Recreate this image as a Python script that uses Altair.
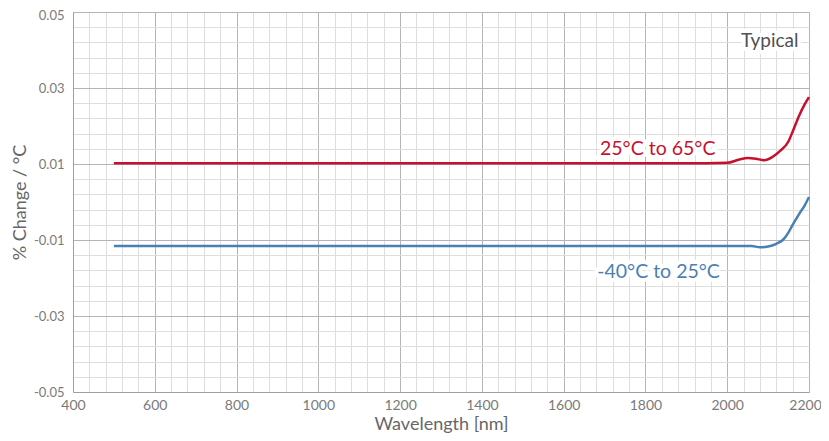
import altair as alt
import pandas as pd

# Data
wl_red = [500, 1000, 1500, 1950, 2000, 2030, 2050, 2070, 2090, 2110, 2130, 2150, 2160, 2175, 2190, 2200]
val_red = [0.0102, 0.0102, 0.0102, 0.0102, 0.0103, 0.0112, 0.0116, 0.0114, 0.0110, 0.0118, 0.0135, 0.0160, 0.0185, 0.0225, 0.0258, 0.0276]

wl_blue = [500, 1000, 1500, 2000, 2060, 2080, 2100, 2120, 2136, 2150, 2160, 2175, 2190, 2200]
val_blue = [-0.0116, -0.0116, -0.0116, -0.0116, -0.0116, -0.0119, -0.0117, -0.0110, -0.0100, -0.0080, -0.0060, -0.0033, -0.0008, 0.0013]

series_names = ["25°C to 65°C", "-40°C to 25°C"]
series_colors = ["#C8102E", "#4A7FB5"]

label_x = [1830, 1832]
label_y = [0.0139, -0.0184]

x_ticks = list(range(400, 2201, 40))
y_ticks = [round(-0.05 + 0.004 * i, 3) for i in range(26)]

df = pd.concat([
    pd.DataFrame({"wl": wl_red, "val": val_red, "series": series_names[0]}),
    pd.DataFrame({"wl": wl_blue, "val": val_blue, "series": series_names[1]}),
])
lab = pd.DataFrame({"wl": label_x, "val": label_y, "series": series_names})
typ = pd.DataFrame({"wl": [2104], "val": [0.0424], "t": ["Typical"]})

FONT = "Lato"
GRAYTXT = "#666666"
TICKTXT = "#7a7a7a"

xscale = alt.Scale(domain=[400, 2200], nice=False, zero=False)
yscale = alt.Scale(domain=[-0.05, 0.05], nice=False, zero=False)
cscale = alt.Scale(domain=series_names, range=series_colors)

xaxis = alt.Axis(
    values=x_ticks,
    tickCount=200,
    labelExpr="datum.value % 200 === 0 ? datum.label : ''",
    format="d",
    grid=True,
    gridColor={"condition": {"test": "datum.value % 200 === 0", "value": "#b4b4b4"}, "value": "#dedede"},
    gridWidth=1,
    ticks=False,
    domainColor="#a0a0a0",
    labelFont=FONT, labelFontSize=14, labelColor=TICKTXT, labelPadding=6,
    labelOffset={"condition": {"test": "datum.value >= 2200", "value": -4}, "value": 0},
    title="Wavelength [nm]", titleFont=FONT, titleFontSize=18, titleFontWeight="normal",
    titleColor=GRAYTXT, titlePadding=3, labelFlush=False, labelOverlap=False,
)
yaxis = alt.Axis(
    values=y_ticks,
    tickCount=200,
    labelExpr="abs(round(datum.value*1000)) % 20 === 10 ? replace(datum.label, '\u2212', '-') : ''",
    format=".2f",
    grid=True,
    gridColor={"condition": {"test": "abs(round(datum.value*1000)) % 20 === 10", "value": "#b4b4b4"}, "value": "#dedede"},
    gridWidth=1,
    ticks=False,
    domainColor="#a0a0a0",
    labelFont=FONT, labelFontSize=13, labelColor=TICKTXT, labelPadding=9,
    labelOffset={"condition": {"test": "datum.value >= 0.049", "value": 3}, "value": 0},
    title="% Change / °C", titleFont=FONT, titleFontSize=18, titleFontWeight="normal",
    titleColor=GRAYTXT, titleX=-53, titleY=190, titleAlign="center", titleBaseline="middle",
    labelOverlap=False, labelFlush=False,
)

lines = alt.Chart(df).mark_line(interpolate="monotone", strokeWidth=2.5).encode(
    x=alt.X("wl:Q", scale=xscale, axis=xaxis),
    y=alt.Y("val:Q", scale=yscale, axis=yaxis),
    color=alt.Color("series:N", scale=cscale, legend=None),
    detail="series:N",
)

halo = alt.Chart(lab).mark_text(font=FONT, fontSize=19.5, stroke="white", strokeWidth=8, strokeJoin="miter",
                                fill="white", align="center", baseline="middle").encode(
    x="wl:Q", y="val:Q", text="series:N")
texts = alt.Chart(lab).mark_text(font=FONT, fontSize=19.5, align="center", baseline="middle").encode(
    x="wl:Q", y="val:Q", text="series:N",
    color=alt.Color("series:N", scale=cscale, legend=None))

typ_halo = alt.Chart(typ).mark_text(font=FONT, fontSize=19, stroke="white", strokeWidth=8, fill="white",
                                    align="center", baseline="middle").encode(x="wl:Q", y="val:Q", text="t:N")
typ_text = alt.Chart(typ).mark_text(font=FONT, fontSize=19, color="#505050", align="center",
                                    baseline="middle").encode(x="wl:Q", y="val:Q", text="t:N")

chart = alt.layer(lines, halo, texts, typ_halo, typ_text).properties(
    width=736, height=380,
    autosize=alt.AutoSizeParams(type="none"),
    padding={"left": 65, "top": 4, "right": 12, "bottom": 41},
).configure_view(stroke="#a0a0a0", strokeWidth=1).configure(background="white")

chart.save("out.html", embed_options={"renderer": "svg", "actions": False})
